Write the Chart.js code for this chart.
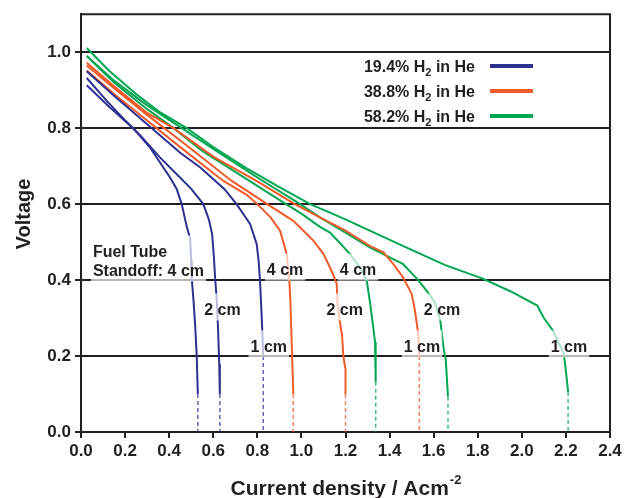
<!DOCTYPE html>
<html>
<head>
<meta charset="utf-8">
<script src="https://cdn.jsdelivr.net/npm/chart.js@4/dist/chart.umd.min.js"></script>
<style>
  html, body { margin: 0; padding: 0; background: #ffffff; }
  canvas { display: block; }
</style>
</head>
<body>
<canvas id="chart" width="627" height="498"></canvas>
<script>
// Polarization curves: current density (A/cm^2) vs cell voltage (V)
// for three H2 concentrations and three fuel-tube standoffs.

const xTickValues = [0.0, 0.2, 0.4, 0.6, 0.8, 1.0, 1.2, 1.4, 1.6, 1.8, 2.0, 2.2, 2.4];
const yTickValues = [0.0, 0.2, 0.4, 0.6, 0.8, 1.0];

const seriesNames = ['19.4% H2 in He', '38.8% H2 in He', '58.2% H2 in He'];

// 19.4% H2, standoff 4 cm
const blue4I = [0.026, 0.13, 0.237, 0.313, 0.404, 0.434, 0.457, 0.48, 0.495, 0.50, 0.503, 0.51, 0.518, 0.525, 0.53];
const blue4V = [0.913, 0.855, 0.80, 0.749, 0.67, 0.64, 0.60, 0.54, 0.51, 0.45, 0.40, 0.35, 0.28, 0.20, 0.10];
// 19.4% H2, standoff 2 cm
const blue2I = [0.026, 0.12, 0.20, 0.27, 0.358, 0.449, 0.50, 0.555, 0.58, 0.595, 0.603, 0.608, 0.616, 0.622, 0.627, 0.63];
const blue2V = [0.932, 0.87, 0.82, 0.78, 0.723, 0.67, 0.64, 0.60, 0.56, 0.52, 0.46, 0.41, 0.346, 0.27, 0.18, 0.10];
// 19.4% H2, standoff 1 cm
const blue1I = [0.026, 0.15, 0.30, 0.45, 0.54, 0.65, 0.706, 0.767, 0.797, 0.806, 0.812, 0.82, 0.827];
const blue1V = [0.95, 0.885, 0.81, 0.735, 0.697, 0.64, 0.60, 0.548, 0.495, 0.45, 0.40, 0.30, 0.20];

// 38.8% H2, standoff 4 cm
const orange4I = [0.026, 0.15, 0.30, 0.45, 0.646, 0.75, 0.80, 0.86, 0.903, 0.933, 0.945, 0.95, 0.955, 0.96, 0.963];
const orange4V = [0.952, 0.89, 0.82, 0.75, 0.661, 0.625, 0.60, 0.565, 0.53, 0.469, 0.40, 0.346, 0.25, 0.16, 0.10];
// 38.8% H2, standoff 2 cm
const orange2I = [0.026, 0.15, 0.30, 0.50, 0.684, 0.845, 0.963, 1.009, 1.054, 1.10, 1.14, 1.16, 1.165, 1.185, 1.19, 1.20, 1.20];
const orange2V = [0.965, 0.905, 0.835, 0.745, 0.661, 0.60, 0.556, 0.53, 0.504, 0.469, 0.42, 0.39, 0.33, 0.25, 0.20, 0.165, 0.10];
// 38.8% H2, standoff 1 cm
const orange1I = [0.026, 0.15, 0.30, 0.42, 0.60, 0.80, 0.97, 1.084, 1.20, 1.31, 1.372, 1.42, 1.46, 1.50, 1.515, 1.53, 1.535];
const orange1V = [0.972, 0.91, 0.84, 0.80, 0.725, 0.66, 0.60, 0.565, 0.53, 0.49, 0.473, 0.44, 0.408, 0.364, 0.32, 0.259, 0.20];

// 58.2% H2, standoff 4 cm
const green4I = [0.026, 0.15, 0.30, 0.42, 0.55, 0.70, 0.93, 1.00, 1.084, 1.13, 1.22, 1.27, 1.296, 1.31, 1.325, 1.334, 1.337];
const green4V = [0.99, 0.92, 0.85, 0.80, 0.74, 0.685, 0.60, 0.575, 0.54, 0.525, 0.469, 0.43, 0.40, 0.346, 0.28, 0.237, 0.132];
// 58.2% H2, standoff 2 cm
const green2I = [0.026, 0.15, 0.30, 0.457, 0.60, 0.80, 0.98, 1.084, 1.20, 1.31, 1.40, 1.46, 1.53, 1.57, 1.605, 1.63, 1.645, 1.655, 1.66, 1.665];
const green2V = [0.99, 0.925, 0.86, 0.80, 0.745, 0.67, 0.605, 0.565, 0.525, 0.486, 0.46, 0.443, 0.40, 0.37, 0.342, 0.294, 0.22, 0.19, 0.14, 0.093];
// 58.2% H2, standoff 1 cm
const green1I = [0.026, 0.13, 0.25, 0.35, 0.48, 0.60, 0.75, 0.90, 1.04, 1.20, 1.31, 1.49, 1.65, 1.825, 1.95, 2.07, 2.10, 2.14, 2.19, 2.20, 2.21];
const green1V = [1.011, 0.95, 0.89, 0.845, 0.80, 0.75, 0.695, 0.645, 0.60, 0.56, 0.53, 0.482, 0.44, 0.403, 0.37, 0.333, 0.30, 0.268, 0.207, 0.16, 0.105];

const BLUE = '#2e3192';
const ORANGE = '#f15a29';
const GREEN = '#00a651';
const INK = '#231f20';
const FONT = "'Liberation Sans', Arial, Helvetica, sans-serif";

const curves = [
  { I: blue4I, V: blue4V, color: BLUE },
  { I: blue2I, V: blue2V, color: BLUE },
  { I: blue1I, V: blue1V, color: BLUE },
  { I: orange4I, V: orange4V, color: ORANGE },
  { I: orange2I, V: orange2V, color: ORANGE },
  { I: orange1I, V: orange1V, color: ORANGE },
  { I: green4I, V: green4V, color: GREEN },
  { I: green2I, V: green2V, color: GREEN },
  { I: green1I, V: green1V, color: GREEN }
];

function withAlpha(hex, a) {
  const n = parseInt(hex.slice(1), 16);
  return `rgba(${(n >> 16) & 255},${(n >> 8) & 255},${n & 255},${a})`;
}

const datasets = [];
curves.forEach(c => {
  const pts = c.I.map((x, i) => ({ x, y: c.V[i] }));
  datasets.push({
    data: pts, showLine: true, borderColor: c.color, borderWidth: 2,
    pointRadius: 0, tension: 0, fill: false
  });
  // dashed extension from the last measured point down to zero volts
  const last = pts[pts.length - 1];
  datasets.push({
    data: [last, { x: last.x, y: 0 }], showLine: true,
    borderColor: withAlpha(c.color, 0.75), borderWidth: 1.5, borderDash: [4, 3],
    pointRadius: 0, fill: false
  });
});

// Standoff annotations, anchored in data coordinates (centre of the last text line)
const annotations = [
  { lines: ['Fuel Tube', 'Standoff: 4 cm'], x: 0.054, y: 0.423, align: 'left' },
  { lines: ['2 cm'], x: 0.642, y: 0.32 },
  { lines: ['1 cm'], x: 0.852, y: 0.223 },
  { lines: ['4 cm'], x: 0.926, y: 0.425 },
  { lines: ['4 cm'], x: 1.257, y: 0.425 },
  { lines: ['2 cm'], x: 1.196, y: 0.32 },
  { lines: ['2 cm'], x: 1.638, y: 0.32 },
  { lines: ['1 cm'], x: 1.547, y: 0.223 },
  { lines: ['1 cm'], x: 2.214, y: 0.223 }
];

const annotationPlugin = {
  id: 'standoffLabels',
  afterDatasetsDraw(chart) {
    const { ctx, scales } = chart;
    ctx.save();
    ctx.font = `bold 16px ${FONT}`;
    ctx.textBaseline = 'middle';
    annotations.forEach(a => {
      const px = scales.x.getPixelForValue(a.x);
      const py = scales.y.getPixelForValue(a.y);
      const lh = 19;
      const widths = a.lines.map(t => ctx.measureText(t).width);
      const w = Math.max(...widths);
      const left = a.align === 'left' ? px : px - w / 2;
      const firstY = py - (a.lines.length - 1) * lh;
      ctx.fillStyle = 'rgba(255,255,255,0.68)';
      ctx.fillRect(left - 2, firstY - 17, w + 4, (a.lines.length - 1) * lh + 27);
      ctx.fillStyle = INK;
      ctx.textAlign = 'left';
      a.lines.forEach((t, i) => ctx.fillText(t, left, firstY + i * lh));
    });
    ctx.restore();
  }
};

const legendPlugin = {
  id: 'concLegend',
  afterDraw(chart) {
    const { ctx } = chart;
    const colors = [BLUE, ORANGE, GREEN];
    ctx.save();
    ctx.textBaseline = 'alphabetic';
    seriesNames.forEach((name, i) => {
      const yc = 66 + i * 25;
      const [pre, post] = name.split('H2');
      const mainFont = `bold 16px ${FONT}`;
      const subFont = `bold 11px ${FONT}`;
      ctx.font = mainFont;
      const w1 = ctx.measureText(pre + 'H').width;
      const w3 = ctx.measureText(post).width;
      ctx.font = subFont;
      const w2 = ctx.measureText('2').width;
      let x = 475 - (w1 + w2 + w3);
      const base = yc + 6;
      ctx.fillStyle = INK;
      ctx.font = mainFont;
      ctx.fillText(pre + 'H', x, base);
      x += w1;
      ctx.font = subFont;
      ctx.fillText('2', x, base + 4);
      x += w2;
      ctx.font = mainFont;
      ctx.fillText(post, x, base);
      ctx.strokeStyle = colors[i];
      ctx.lineWidth = 4;
      ctx.beginPath();
      ctx.moveTo(490, yc);
      ctx.lineTo(533, yc);
      ctx.stroke();
    });
    ctx.restore();
  }
};

const framePlugin = {
  id: 'frameAndTitles',
  beforeDatasetsDraw(chart) {
    const { ctx, chartArea: a } = chart;
    ctx.save();
    ctx.strokeStyle = INK;
    ctx.lineWidth = 2;
    ctx.beginPath();
    ctx.moveTo(a.left, a.top);
    ctx.lineTo(a.right, a.top);
    ctx.lineTo(a.right, a.bottom);
    ctx.stroke();
    ctx.restore();
  },
  afterDraw(chart) {
    const { ctx, chartArea: a } = chart;
    ctx.save();
    ctx.fillStyle = INK;
    // y axis title
    ctx.font = `bold 20px ${FONT}`;
    ctx.textAlign = 'center';
    ctx.textBaseline = 'middle';
    ctx.translate(24, 214);
    ctx.rotate(-Math.PI / 2);
    ctx.fillText('Voltage', 0, 0);
    ctx.setTransform(1, 0, 0, 1, 0, 0);
    // x axis title with superscript
    const main = 'Current density / Acm';
    const sup = '-2';
    ctx.font = `bold 21px ${FONT}`;
    const wm = ctx.measureText(main).width;
    ctx.font = `bold 13px ${FONT}`;
    const ws = ctx.measureText(sup).width;
    let x = (a.left + a.right) / 2 - (wm + ws) / 2;
    ctx.textAlign = 'left';
    ctx.textBaseline = 'alphabetic';
    ctx.font = `bold 21px ${FONT}`;
    ctx.fillText(main, x, 495);
    ctx.font = `bold 13px ${FONT}`;
    ctx.fillText(sup, x + wm + 1, 484);
    ctx.restore();
  }
};

const tickFont = { family: FONT, size: 17, weight: 'bold' };

new Chart(document.getElementById('chart'), {
  type: 'scatter',
  data: { datasets },
  options: {
    responsive: false,
    animation: false,
    layout: { padding: { top: 12, right: 17, left: 0, bottom: 0 } },
    plugins: { legend: { display: false }, tooltip: { enabled: false } },
    scales: {
      x: {
        type: 'linear', min: 0, max: 2.4,
        afterBuildTicks: s => { s.ticks = xTickValues.map(v => ({ value: v })); },
        ticks: { callback: v => Number(v).toFixed(1), font: tickFont, color: INK, padding: 3, maxRotation: 0, autoSkip: false },
        grid: { drawOnChartArea: false, drawTicks: true, tickLength: 6, tickWidth: 2, tickColor: INK, color: INK, lineWidth: 2 },
        border: { color: INK, width: 2 },
        afterFit: s => { s.height = 66; }
      },
      y: {
        type: 'linear', min: 0, max: 1.1,
        afterBuildTicks: s => { s.ticks = yTickValues.map(v => ({ value: v })); },
        ticks: { callback: v => Number(v).toFixed(1), font: tickFont, color: INK, padding: 4 },
        grid: { color: INK, lineWidth: 2, tickLength: 6, tickWidth: 2, tickColor: INK },
        border: { color: INK, width: 2 },
        afterFit: s => { s.width = 81; }
      }
    }
  },
  plugins: [framePlugin, annotationPlugin, legendPlugin]
});
</script>
</body>
</html>
